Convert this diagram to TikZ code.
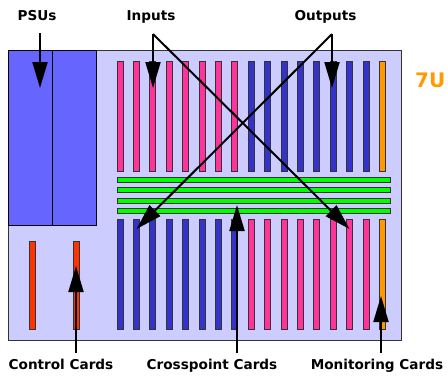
\documentclass[tikz,border=0pt]{standalone}
\usepackage{fontspec}
\setmainfont{DejaVu Sans}
\usetikzlibrary{arrows.meta}
\definecolor{bgc}{HTML}{CCCCFF}
\definecolor{psuc}{HTML}{6666FF}
\definecolor{bluec}{HTML}{3333CC}
\definecolor{pinkc}{HTML}{FF3399}
\definecolor{orc}{HTML}{FF9900}
\definecolor{grc}{HTML}{00FF00}
\definecolor{redc}{HTML}{FF3300}
\definecolor{edgec}{HTML}{333333}
\tikzset{
  card/.style={draw=edgec, line width=0.7pt, inner sep=0pt, minimum width=6pt, minimum height=110pt},
  bar/.style={draw=edgec, line width=0.7pt, inner sep=0pt, minimum width=273pt, minimum height=5pt},
  lbl/.style={font=\bfseries\fontsize{13.6}{15}\selectfont, inner sep=0pt, anchor=base},
  arr/.style={line width=2pt, -{Triangle[length=26pt,width=15pt]}},
  pln/.style={line width=2pt}
}
\begin{document}
\begin{tikzpicture}[x=1pt,y=-1pt]
\useasboundingbox (0,0) rectangle (448,376);
% chassis
\node[draw=edgec, line width=1pt, fill=bgc, inner sep=0pt, minimum width=393pt, minimum height=290pt] (chassis) at (204.5,195) {};
\node[draw=black, line width=0.8pt, fill=psuc, inner sep=0pt, minimum width=44pt, minimum height=175pt] (psuA) at (30,137.5) {};
\node[draw=black, line width=0.8pt, fill=psuc, inner sep=0pt, minimum width=44pt, minimum height=175pt] (psuB) at (74,137.5) {};
% cards
\foreach \i in {0,...,16}{
  \pgfmathsetmacro{\cx}{120+16.4*\i}
  \ifnum\i<8
    \node[card, fill=pinkc] (t\i) at (\cx,116) {};
    \node[card, fill=bluec] (b\i) at (\cx,274) {};
  \else\ifnum\i<16
    \node[card, fill=bluec] (t\i) at (\cx,116) {};
    \node[card, fill=pinkc] (b\i) at (\cx,274) {};
  \else
    \node[card, fill=orc] (t\i) at (\cx,116) {};
    \node[card, fill=orc] (b\i) at (\cx,274) {};
  \fi\fi
}
\foreach \y [count=\k] in {179.5,190,200.5,211}{
  \node[bar, fill=grc] (g\k) at (253.5,\y) {};
}
\node[card, fill=redc, minimum height=88pt] (c1) at (32,285) {};
\node[card, fill=redc, minimum height=88pt] (c2) at (76,285) {};
% labels
\node[lbl] (psu) at (37,20) {PSUs};
\node[lbl] (inp) at (151,20) {Inputs};
\node[lbl] (outp) at (325.5,20) {Outputs};
\node[lbl, font=\bfseries\fontsize{20}{22}\selectfont, text=orc, anchor=base west] (sevenU) at (415,87) {7U};
\node[lbl] (ctrl) at (61,369) {Control Cards};
\node[lbl] (xp) at (212,369) {Crosspoint Cards};
\node[lbl] (mon) at (377,369) {Monitoring Cards};
% arrow coordinates
\coordinate (psuS) at (40,33);
\coordinate (psuT) at (40,88);
\coordinate (inV) at (153,34);
\coordinate (inT) at (153,88);
\coordinate (inD) at (349.5,229);
\coordinate (outV) at (332,34);
\coordinate (outT) at (332,88);
\coordinate (outD) at (136.5,229);
\coordinate (xpS) at (237,353);
\coordinate (xpT) at (237,205);
\coordinate (ctS) at (76,353);
\coordinate (ctT) at (76,266);
\coordinate (moS) at (381,353);
\coordinate (moT) at (381,296);
\draw[arr] (psuS) -- (psuT);
\draw[arr] (inV) -- (inT);
\draw[arr] (inV) -- (inD);
\draw[arr] (outV) -- (outT);
\draw[arr] (outV) -- (outD);
\draw[arr] (xpS) -- (xpT);
\draw[arr] (ctS) -- (ctT);
\draw[arr] (moS) -- (moT);
\end{tikzpicture}
\end{document}
